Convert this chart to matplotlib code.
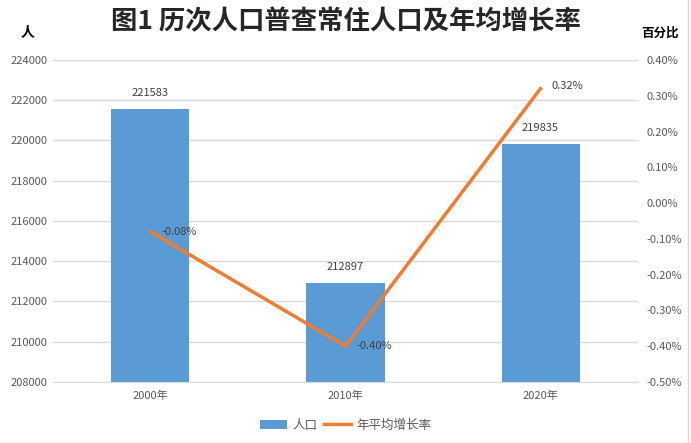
import matplotlib
matplotlib.use("Agg")
import matplotlib.pyplot as plt
from matplotlib.ticker import FuncFormatter, MultipleLocator
from matplotlib.lines import Line2D

plt.rcParams['font.family'] = ['Noto Sans CJK SC', 'DejaVu Sans']

categories = ['2000年', '2010年', '2020年']
population = [221583, 212897, 219835]
growth = [-0.08, -0.40, 0.32]
growth_labels = ['-0.08%', '-0.40%', '0.32%']
title = '图1 历次人口普查常住人口及年均增长率'

fig = plt.figure(figsize=(6.91, 4.43), dpi=100)
ax = fig.add_axes([0.0767, 0.1377, 0.8466, 0.7269])
x = list(range(len(categories)))
bars = ax.bar(x, population, width=0.4, color='#5b9bd5', label='人口', zorder=2)
ax.set_ylim(208000, 224000)
ax.set_xlim(-0.5, 2.5)
ax.yaxis.set_major_locator(MultipleLocator(2000))
ax.set_xticks(x)
ax.set_xticklabels(categories)
ax.grid(axis='y', color='#d9d9d9', linewidth=1, zorder=0)
for s in ['left', 'top', 'right']:
    ax.spines[s].set_visible(False)
ax.spines['bottom'].set_color('#d9d9d9')
ax.tick_params(axis='both', length=0, labelsize=8, colors='#595959', pad=6)
ax.tick_params(axis='y', pad=4)
for xi, v in zip(x, population):
    ax.annotate(str(v), (xi, v), xytext=(0, 8), textcoords='offset points',
                ha='center', va='bottom', fontsize=8, color='#404040')

ax2 = ax.twinx()
ax2.plot(x, growth, color='#ed7d31', linewidth=2.5, label='年平均增长率', zorder=3)
ax2.set_ylim(-0.5, 0.4)
ax2.yaxis.set_major_locator(MultipleLocator(0.1))
ax2.yaxis.set_major_formatter(FuncFormatter(lambda v, p: f'{v:.2f}%'))
for s in ['left', 'top', 'right', 'bottom']:
    ax2.spines[s].set_visible(False)
ax2.tick_params(axis='y', length=0, labelsize=8, colors='#595959', pad=6)
offsets = [(8, 0), (8, 0), (8, 2)]
for xi, g, lab, off in zip(x, growth, growth_labels, offsets):
    ax2.annotate(lab, (xi, g), xytext=off, textcoords='offset points',
                 ha='left', va='center', fontsize=8, color='#404040')

fig.text(0.5, 0.95, title, ha='center', va='center', fontsize=19,
         fontweight='bold', color='#262626')
fig.text(0.04, 0.925, '人', ha='center', va='center', fontsize=10,
         fontweight='bold', color='#000000')
fig.text(0.955, 0.925, '百分比', ha='center', va='center', fontsize=9,
         fontweight='bold', color='#000000')

handles = [bars, Line2D([0], [0], color='#ed7d31', linewidth=2.5)]
fig.legend(handles, ['人口', '年平均增长率'], loc='center', bbox_to_anchor=(0.5, 0.04),
           ncol=2, frameon=False, fontsize=9, handlelength=2.2, columnspacing=0.5,
           handletextpad=0.4, labelcolor='#595959')

fig.add_artist(Line2D([0.996, 0.996], [0, 1], transform=fig.transFigure,
                      color='#d9d9d9', linewidth=1))

fig.savefig('out.png', dpi=100)
